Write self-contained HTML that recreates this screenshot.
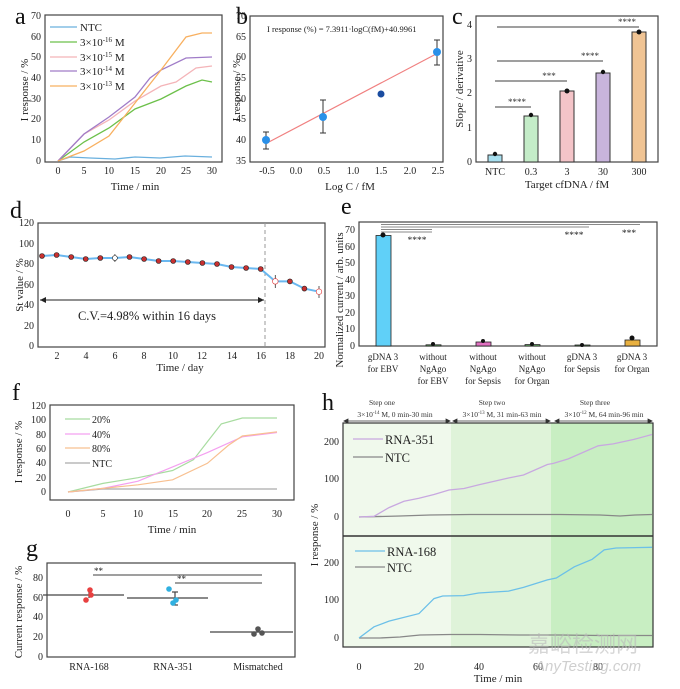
<!DOCTYPE html>
<html><head><meta charset="utf-8"><style>
body{margin:0;background:#fff}
svg{display:block;font-family:"Liberation Serif",serif}
.t{font-size:10px;fill:#222}
.l{font-size:11px;fill:#222}
.p{font-size:24px;fill:#111}
</style></head><body>
<svg width="680" height="689" viewBox="0 0 680 689" xmlns="http://www.w3.org/2000/svg">
<!-- ===== Panel a ===== -->
<text x="15" y="24" class="p">a</text>
<rect x="45" y="15" width="177" height="147" fill="none" stroke="#444" stroke-width="1.2"/>
<g class="t" text-anchor="end">
<text x="41" y="164">0</text><text x="41" y="143">10</text><text x="41" y="122">20</text><text x="41" y="102">30</text><text x="41" y="81">40</text><text x="41" y="60">50</text><text x="41" y="40">60</text><text x="41" y="19">70</text>
</g>
<g class="t" text-anchor="middle">
<text x="58" y="174">0</text><text x="84" y="174">5</text><text x="109" y="174">10</text><text x="135" y="174">15</text><text x="161" y="174">20</text><text x="186" y="174">25</text><text x="212" y="174">30</text>
</g>
<text x="135" y="190" class="l" text-anchor="middle">Time / min</text>
<text transform="translate(28,90) rotate(-90)" class="l" text-anchor="middle">I response / %</text>
<g fill="none" stroke-width="1.3">
<polyline stroke="#6ab0de" points="58,161 70,157 90,158 115,159 135,157 160,158 185,156 212,157"/>
<polyline stroke="#6cc04a" points="58,161 84,142 109,128 135,109 161,99 186,86 202,80 212,82"/>
<polyline stroke="#f4b4b8" points="58,161 84,134 109,120 135,101 161,86 176,82 196,68 212,66"/>
<polyline stroke="#a07cc8" points="58,161 84,134 109,117 135,97 150,78 161,70 186,58 212,57"/>
<polyline stroke="#f8b060" points="58,161 84,151 109,136 135,103 161,70 186,37 202,33 212,33"/>
</g>
<g class="l" font-size="10.5">
<line x1="50" y1="27" x2="77" y2="27" stroke="#6ab0de" stroke-width="1.3"/><text x="80" y="31">NTC</text>
<line x1="50" y1="42" x2="77" y2="42" stroke="#6cc04a" stroke-width="1.3"/><text x="80" y="46">3×10<tspan font-size="7" dy="-4">-16</tspan><tspan dy="4"> M</tspan></text>
<line x1="50" y1="57" x2="77" y2="57" stroke="#f4b4b8" stroke-width="1.3"/><text x="80" y="61">3×10<tspan font-size="7" dy="-4">-15</tspan><tspan dy="4"> M</tspan></text>
<line x1="50" y1="71" x2="77" y2="71" stroke="#a07cc8" stroke-width="1.3"/><text x="80" y="75">3×10<tspan font-size="7" dy="-4">-14</tspan><tspan dy="4"> M</tspan></text>
<line x1="50" y1="86" x2="77" y2="86" stroke="#f8b060" stroke-width="1.3"/><text x="80" y="90">3×10<tspan font-size="7" dy="-4">-13</tspan><tspan dy="4"> M</tspan></text>
</g>
<!-- ===== Panel b ===== -->
<text x="236" y="24" class="p">b</text>
<rect x="250" y="16" width="193" height="146" fill="none" stroke="#444" stroke-width="1.2"/>
<g class="t" text-anchor="end">
<text x="246" y="164">35</text><text x="246" y="143">40</text><text x="246" y="122">45</text><text x="246" y="102">50</text><text x="246" y="81">55</text><text x="246" y="60">60</text><text x="246" y="40">65</text><text x="246" y="19">70</text>
</g>
<g class="t" text-anchor="middle">
<text x="267" y="174">-0.5</text><text x="296" y="174">0.0</text><text x="324" y="174">0.5</text><text x="353" y="174">1.0</text><text x="381" y="174">1.5</text><text x="410" y="174">2.0</text><text x="438" y="174">2.5</text>
</g>
<text x="350" y="190" class="l" text-anchor="middle">Log C / fM</text>
<text transform="translate(240,90) rotate(-90)" class="l" text-anchor="middle">I response / %</text>
<text x="267" y="32" font-size="8.5" fill="#222">I response (%) = 7.3911·logC(fM)+40.9961</text>
<line x1="267" y1="143" x2="438" y2="53" stroke="#f08080" stroke-width="1.2"/>
<g stroke="#333" stroke-width="1">
<line x1="266" y1="132" x2="266" y2="149"/><line x1="263" y1="132" x2="269" y2="132"/><line x1="263" y1="149" x2="269" y2="149"/>
<line x1="323" y1="100" x2="323" y2="133"/><line x1="320" y1="100" x2="326" y2="100"/><line x1="320" y1="133" x2="326" y2="133"/>
<line x1="437" y1="40" x2="437" y2="65"/><line x1="434" y1="40" x2="440" y2="40"/><line x1="434" y1="65" x2="440" y2="65"/>
</g>
<circle cx="266" cy="140" r="4" fill="#2a90e8"/><circle cx="323" cy="117" r="4" fill="#2a90e8"/><circle cx="381" cy="94" r="3.5" fill="#1a4ca0"/><circle cx="437" cy="52" r="4" fill="#2a90e8"/>
<!-- ===== Panel c ===== -->
<text x="452" y="24" class="p">c</text>
<rect x="476" y="16" width="182" height="146" fill="none" stroke="#444" stroke-width="1.2"/>
<g class="t" text-anchor="end">
<text x="472" y="165">0</text><text x="472" y="131">1</text><text x="472" y="96">2</text><text x="472" y="62">3</text><text x="472" y="28">4</text>
</g>
<g stroke="#333" stroke-width="1">
<rect x="488" y="155" width="14" height="7" fill="#a8e0f0"/>
<rect x="524" y="116" width="14" height="46" fill="#c4ecc8"/>
<rect x="560" y="91" width="14" height="71" fill="#f4c4c8"/>
<rect x="596" y="73" width="14" height="89" fill="#c8b4dc"/>
<rect x="632" y="32" width="14" height="130" fill="#f0c494"/>
</g>
<g fill="#111"><circle cx="495" cy="154" r="2.2"/><circle cx="531" cy="115" r="2.2"/><circle cx="567" cy="91" r="2.5"/><circle cx="603" cy="72" r="2.2"/><circle cx="639" cy="32" r="2.5"/></g>
<g stroke="#666" stroke-width="1.3">
<line x1="495" y1="107" x2="531" y2="107"/><line x1="495" y1="81" x2="567" y2="81"/><line x1="497" y1="61" x2="603" y2="61"/><line x1="497" y1="27" x2="639" y2="27"/>
</g>
<g font-size="9" fill="#333" text-anchor="middle"><text x="517" y="105">****</text><text x="549" y="79">***</text><text x="590" y="59">****</text><text x="627" y="25">****</text></g>
<g class="t" text-anchor="middle"><text x="495" y="175">NTC</text><text x="531" y="175">0.3</text><text x="567" y="175">3</text><text x="603" y="175">30</text><text x="639" y="175">300</text></g>
<text x="567" y="188" class="l" text-anchor="middle">Target cfDNA / fM</text>
<text transform="translate(463,89) rotate(-90)" class="l" text-anchor="middle">Slope / derivative</text>
<!-- ===== Panel d ===== -->
<text x="10" y="218" class="p">d</text>
<rect x="38" y="223" width="287" height="124" fill="none" stroke="#444" stroke-width="1.2"/>
<g class="t" text-anchor="end">
<text x="34" y="349">0</text><text x="34" y="329">20</text><text x="34" y="308">40</text><text x="34" y="288">60</text><text x="34" y="267">80</text><text x="34" y="247">100</text><text x="34" y="226">120</text>
</g>
<g class="t" text-anchor="middle">
<text x="57" y="359">2</text><text x="86" y="359">4</text><text x="115" y="359">6</text><text x="144" y="359">8</text><text x="173" y="359">10</text><text x="202" y="359">12</text><text x="232" y="359">14</text><text x="261" y="359">16</text><text x="290" y="359">18</text><text x="319" y="359">20</text>
</g>
<text x="180" y="371" class="l" text-anchor="middle">Time / day</text>
<text transform="translate(23,285) rotate(-90)" class="l" text-anchor="middle">St value / %</text>
<line x1="265" y1="223" x2="265" y2="347" stroke="#999" stroke-dasharray="4,3"/>
<line x1="40" y1="300" x2="264" y2="300" stroke="#222"/><path d="M40,300 l6,-3 v6z M264,300 l-6,-3 v6z" fill="#222"/>
<text x="147" y="320" font-size="12.5" fill="#222" text-anchor="middle">C.V.=4.98% within 16 days</text>
<polyline fill="none" stroke="#6ab8f0" stroke-width="2" points="42,256 56.6,255 71.2,257 85.7,259 100.3,258 114.9,258 129.5,257 144.1,259 158.6,261 173.2,261 187.8,262 202.4,263 217,264 231.5,267 246.1,268 260.7,269 275.3,281.4 289.9,281.4 304.4,288.6 319,291.7"/>
<g stroke="#333" stroke-width="0.8"><line x1="275.3" y1="275" x2="275.3" y2="288"/><line x1="319" y1="286" x2="319" y2="298"/><line x1="114.9" y1="254" x2="114.9" y2="262"/></g>
<g fill="#c83030" stroke="#222" stroke-width="0.6">
<circle cx="42" cy="256" r="2.5"/><circle cx="56.6" cy="255" r="2.5"/><circle cx="71.2" cy="257" r="2.5"/><circle cx="85.7" cy="259" r="2.5"/><circle cx="100.3" cy="258" r="2.5"/><circle cx="114.9" cy="258" r="2.5" fill="#fff"/><circle cx="129.5" cy="257" r="2.5"/><circle cx="144.1" cy="259" r="2.5"/><circle cx="158.6" cy="261" r="2.5"/><circle cx="173.2" cy="261" r="2.5"/><circle cx="187.8" cy="262" r="2.5"/><circle cx="202.4" cy="263" r="2.5"/><circle cx="217" cy="264" r="2.5"/><circle cx="231.5" cy="267" r="2.5"/><circle cx="246.1" cy="268" r="2.5"/><circle cx="260.7" cy="269" r="2.5"/><circle cx="275.3" cy="281.4" r="2.8" fill="#fff" stroke="#e03030"/><circle cx="289.9" cy="281.4" r="2.5"/><circle cx="304.4" cy="288.6" r="2.5"/><circle cx="319" cy="291.7" r="2.8" fill="#fff" stroke="#e03030"/>
</g>
<!-- ===== Panel e ===== -->
<text x="341" y="214" class="p">e</text>
<rect x="359" y="222" width="298" height="124" fill="none" stroke="#444" stroke-width="1.2"/>
<g class="t" text-anchor="end">
<text x="355" y="349">0</text><text x="355" y="332">10</text><text x="355" y="316">20</text><text x="355" y="299">30</text><text x="355" y="283">40</text><text x="355" y="266">50</text><text x="355" y="250">60</text><text x="355" y="233">70</text>
</g>
<g stroke="#222" stroke-width="0.8">
<rect x="376" y="235.5" width="15" height="110.5" fill="#60d0f8"/>
<rect x="426" y="344.8" width="15" height="1.2" fill="#70c070"/>
<rect x="476" y="342" width="15" height="4" fill="#e070c0"/>
<rect x="525" y="344.6" width="15" height="1.4" fill="#70c070"/>
<rect x="575" y="345" width="15" height="1" fill="#70c070"/>
<rect x="625" y="340" width="15" height="6" fill="#e8b040"/>
</g>
<g fill="#111"><circle cx="383" cy="235" r="2.5"/><circle cx="433" cy="344" r="2"/><circle cx="483" cy="341" r="2"/><circle cx="532" cy="344" r="2"/><circle cx="582" cy="345" r="2"/><circle cx="632" cy="338" r="2.5"/></g>
<g stroke="#888" stroke-width="1.1">
<line x1="381" y1="224.5" x2="640" y2="224.5"/><line x1="381" y1="227" x2="589" y2="227"/><line x1="381" y1="229.5" x2="432" y2="229.5"/><line x1="381" y1="232" x2="432" y2="232"/>
</g>
<g font-size="9.5" fill="#222" text-anchor="middle"><text x="417" y="243">****</text><text x="574" y="238">****</text><text x="629" y="236">***</text></g>
<g font-size="9" fill="#222" text-anchor="middle">
<text x="383" y="360">gDNA 3</text><text x="383" y="372">for EBV</text>
<text x="433" y="360">without</text><text x="433" y="372">NgAgo</text><text x="433" y="384">for EBV</text>
<text x="483" y="360">without</text><text x="483" y="372">NgAgo</text><text x="483" y="384">for Sepsis</text>
<text x="532" y="360">without</text><text x="532" y="372">NgAgo</text><text x="532" y="384">for Organ</text>
<text x="582" y="360">gDNA 3</text><text x="582" y="372">for Sepsis</text>
<text x="632" y="360">gDNA 3</text><text x="632" y="372">for Organ</text>
</g>
<text transform="translate(343,300) rotate(-90)" class="l" text-anchor="middle">Normalized current / arb. units</text>
<!-- ===== Panel f ===== -->
<text x="12" y="400" class="p">f</text>
<rect x="50" y="405" width="244" height="95" fill="none" stroke="#444" stroke-width="1.2"/>
<g class="t" text-anchor="end">
<text x="46" y="495">0</text><text x="46" y="481">20</text><text x="46" y="466">40</text><text x="46" y="452">60</text><text x="46" y="438">80</text><text x="46" y="423">100</text><text x="46" y="409">120</text>
</g>
<g class="t" text-anchor="middle">
<text x="68" y="517">0</text><text x="103" y="517">5</text><text x="138" y="517">10</text><text x="173" y="517">15</text><text x="207" y="517">20</text><text x="242" y="517">25</text><text x="277" y="517">30</text>
</g>
<text x="172" y="533" class="l" text-anchor="middle">Time / min</text>
<text transform="translate(22,452) rotate(-90)" class="l" text-anchor="middle">I response / %</text>
<g fill="none" stroke-width="1.2">
<polyline stroke="#aaa" points="68,492 103,489 277,489"/>
<polyline stroke="#a8dca0" points="68,492 103,483.4 138,477.7 172.6,470.5 193.5,459.7 207.4,441.8 221.3,423.9 242.3,418 277,418"/>
<polyline stroke="#f4a0f0" points="68,492 103,488.4 138,481.2 172.6,466.9 207.4,452.6 242.3,436.8 277,432.5"/>
<polyline stroke="#f8c090" points="68,492 103,488.4 138,484.8 172.6,479.8 207.4,463.3 228.3,445.4 242.3,436 277,431.8"/>
</g>
<g font-size="10" fill="#222">
<line x1="65" y1="419" x2="90" y2="419" stroke="#a8dca0" stroke-width="1.3"/><text x="92" y="423">20%</text>
<line x1="65" y1="434" x2="90" y2="434" stroke="#f4a0f0" stroke-width="1.3"/><text x="92" y="438">40%</text>
<line x1="65" y1="448" x2="90" y2="448" stroke="#f8c090" stroke-width="1.3"/><text x="92" y="452">80%</text>
<line x1="65" y1="463" x2="90" y2="463" stroke="#aaa" stroke-width="1.3"/><text x="92" y="467">NTC</text>
</g>
<!-- ===== Panel g ===== -->
<text x="26" y="556" class="p">g</text>
<rect x="47" y="563" width="248" height="94" fill="none" stroke="#444" stroke-width="1.2"/>
<g class="t" text-anchor="end">
<text x="43" y="660">0</text><text x="43" y="640">20</text><text x="43" y="620">40</text><text x="43" y="601">60</text><text x="43" y="581">80</text>
</g>
<g class="t" text-anchor="middle"><text x="89" y="670">RNA-168</text><text x="173" y="670">RNA-351</text><text x="258" y="670">Mismatched</text></g>
<text transform="translate(22,612) rotate(-90)" class="l" text-anchor="middle">Current response / %</text>
<g stroke="#666" stroke-width="1.3">
<line x1="93" y1="575" x2="262" y2="575"/><line x1="175" y1="583" x2="262" y2="583"/>
</g>
<g font-size="9" fill="#222"><text x="94" y="574">**</text><text x="177" y="582">**</text></g>
<g stroke="#444" stroke-width="1.2">
<line x1="43" y1="595" x2="124" y2="595"/><line x1="127" y1="598" x2="208" y2="598"/><line x1="210" y1="632" x2="293" y2="632"/>
<line x1="175" y1="592" x2="175" y2="605"/><line x1="172" y1="592" x2="178" y2="592"/><line x1="172" y1="605" x2="178" y2="605"/>
<line x1="89" y1="592" x2="89" y2="598"/>
</g>
<g fill="#e84040"><circle cx="86" cy="600" r="2.8"/><circle cx="90" cy="590" r="2.8"/><circle cx="91" cy="595" r="2.8"/></g>
<g fill="#30b0e0"><circle cx="169" cy="589" r="2.8"/><circle cx="173" cy="603" r="2.8"/><circle cx="176" cy="600" r="2.8"/></g>
<g fill="#555"><circle cx="254" cy="634" r="2.8"/><circle cx="258" cy="629" r="2.8"/><circle cx="262" cy="633" r="2.8"/></g>
<!-- ===== Panel h ===== -->
<text x="322" y="410" class="p">h</text>
<rect x="343" y="423" width="108" height="224" fill="#f0f9ec"/>
<rect x="451" y="423" width="100" height="224" fill="#dff3d9"/>
<rect x="551" y="423" width="102" height="224" fill="#c8eec2"/>
<rect x="343" y="423" width="310" height="224" fill="none" stroke="#333" stroke-width="1.2"/>
<line x1="343" y1="536" x2="653" y2="536" stroke="#333" stroke-width="1.5"/>
<g font-size="7.5" fill="#333" text-anchor="middle">
<text x="382" y="405">Step one</text><text x="395" y="417">3×10<tspan font-size="5" dy="-3">-14</tspan><tspan dy="3"> M, 0 min-30 min</tspan></text>
<text x="492" y="405">Step two</text><text x="502" y="417">3×10<tspan font-size="5" dy="-3">-13</tspan><tspan dy="3"> M, 31 min-63 min</tspan></text>
<text x="595" y="405">Step three</text><text x="604" y="417">3×10<tspan font-size="5" dy="-3">-12</tspan><tspan dy="3"> M, 64 min-96 min</tspan></text>
</g>
<g stroke="#333" stroke-width="0.8" fill="#333">
<line x1="344" y1="421" x2="450" y2="421"/><path d="M344,421 l4,-2 v4z M450,421 l-4,-2 v4z"/>
<line x1="453" y1="421" x2="550" y2="421"/><path d="M453,421 l4,-2 v4z M550,421 l-4,-2 v4z"/>
<line x1="555" y1="421" x2="652" y2="421"/><path d="M555,421 l4,-2 v4z M652,421 l-4,-2 v4z"/>
</g>
<g class="t" text-anchor="end">
<text x="339" y="520">0</text><text x="339" y="482">100</text><text x="339" y="445">200</text>
<text x="339" y="641">0</text><text x="339" y="603">100</text><text x="339" y="566">200</text>
</g>
<g class="t" text-anchor="middle"><text x="359" y="670">0</text><text x="419" y="670">20</text><text x="479" y="670">40</text><text x="538" y="670">60</text><text x="598" y="670">80</text></g>
<text x="498" y="682" class="l" text-anchor="middle">Time / min</text>
<text transform="translate(318,535) rotate(-90)" class="l" text-anchor="middle">I response / %</text>
<g fill="none" stroke-width="1.3">
<polyline stroke="#888" points="359,517 400,516 430,515 470,514.5 520,514.5 560,514.5 600,515 620,516 635,515 652,514.5"/>
<polyline stroke="#c8a8e0" points="359,517 374,516.3 389,507.6 404,501.3 419,498.3 434,494.5 449,490 464,488.5 479,484.8 508.5,478 523.5,475 547.4,464.5 553.4,463.4 568.3,458.9 598.2,445.8 613.2,443.9 634,439.4 652,434.5"/>
<polyline stroke="#888" points="359,638 380,638 400,637 420,635 450,634.5 480,634.5 520,635 560,635 600,635.5 652,635.5"/>
<polyline stroke="#6cc0e8" points="359,638 374,626.8 389,621.1 419,613.6 434,598.6 442.7,596 463.7,595.6 478.6,593 508.5,591.1 523.5,587.4 547.4,579.9 556.3,578 574.3,566.8 592.2,559.3 604.2,549.9 616.1,548 652,547.3"/>
</g>
<g font-size="12.5" fill="#222">
<line x1="353" y1="439" x2="383" y2="439" stroke="#c8a8e0" stroke-width="1.3"/><text x="385" y="444">RNA-351</text>
<line x1="353" y1="457" x2="383" y2="457" stroke="#888" stroke-width="1.3"/><text x="385" y="462">NTC</text>
<line x1="355" y1="551" x2="385" y2="551" stroke="#6cc0e8" stroke-width="1.3"/><text x="387" y="556">RNA-168</text>
<line x1="355" y1="567" x2="385" y2="567" stroke="#888" stroke-width="1.3"/><text x="387" y="572">NTC</text>
</g>
<text x="528" y="652" font-family="'Noto Sans CJK SC',sans-serif" font-size="22" fill="#bbb" fill-opacity="0.6">嘉峪检测网</text>
<text x="535" y="671" font-family="'Liberation Sans',sans-serif" font-style="italic" font-size="15" fill="#bbb" fill-opacity="0.7">AnyTesting.com</text>
</svg>
</body></html>
